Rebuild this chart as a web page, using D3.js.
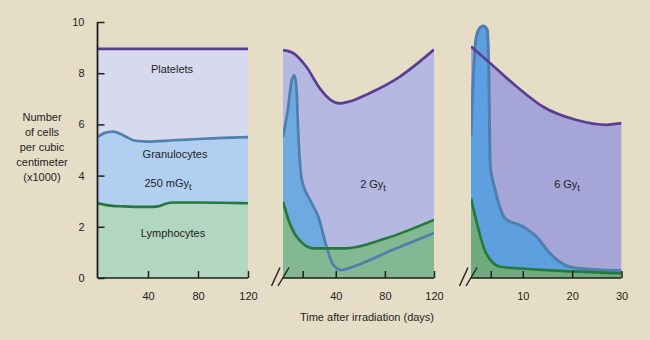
<!DOCTYPE html>
<html><head><meta charset="utf-8">
<script src="https://cdn.jsdelivr.net/npm/d3@7"></script>
<style>
html,body{margin:0;padding:0;background:#e6ddc7;}
svg{display:block;font-family:"Liberation Sans",Arial,Helvetica,sans-serif;}
</style></head>
<body>
<svg id="c" width="650" height="340"></svg>
<script>
// ---- data (days, cells x1000) ----
const yTicks = [0, 2, 4, 6, 8, 10];
const p1Ticks = [40, 80, 120];
const p2Ticks = [13, 40, 80, 120];
const p2Labels = ["", "40", "80", "120"];
const p3Ticks = [3.5, 10, 20, 30];
const p3Labels = ["", "10", "20", "30"];

const p1Platelets = [[0,8.95],[40,8.95],[80,8.95],[120,8.95]];
const p1Granulocytes = [[0,5.52],[5,5.66],[12,5.72],[20,5.58],[30,5.36],[40,5.33],[60,5.38],[80,5.43],[100,5.47],[120,5.5]];
const p1Lymphocytes = [[0,2.92],[10,2.83],[20,2.8],[40,2.78],[48,2.8],[54,2.9],[60,2.95],[80,2.95],[100,2.94],[120,2.92]];

const p2Platelets = [[-3,8.9],[5.5,8.78],[16,8.25],[27,7.41],[36,6.95],[43,6.82],[50,6.88],[67,7.21],[92,7.86],[120,8.92]];
const p2Granulocytes = [[-3,5.52],[1,6.6],[4,7.7],[6.3,7.93],[8,7.4],[9.3,5.8],[12.3,3.85],[19,3.05],[25.7,2.4],[32.5,1.22],[37.8,0.52],[44.6,0.31],[54,0.44],[86,1.09],[120,1.76]];
const p2Lymphocytes = [[-3,2.98],[2,2.2],[8.2,1.61],[21.7,1.16],[48.6,1.16],[81,1.55],[120,2.27]];

const p3Platelets = [[-0.5,9.04],[3.4,8.39],[8.8,7.47],[14.1,6.69],[20.9,6.17],[26.9,5.98],[29.8,6.04],[30,6.04]];
const p3Granulocytes = [[-0.5,5.59],[0.35,9.1],[1.0,9.69],[2.0,9.84],[2.8,9.7],[3.1,8.2],[3.4,4.4],[4.4,3.44],[6.4,2.33],[10.1,2.0],[12.8,1.61],[15.5,0.96],[19.5,0.44],[25,0.32],[30,0.29]];
const p3Lymphocytes = [[-0.5,3.11],[0.7,2.14],[2.4,1.03],[5.4,0.44],[8.8,0.38],[20,0.26],[30,0.18]];

const panels = [
  {domain:[0,120], range:[98,248], ticks:p1Ticks, labels:p1Ticks.map(String),
   plt:p1Platelets, gran:p1Granulocytes, lym:p1Lymphocytes,
   fills:["#d7d9ef","#b1d0f1","#b3d6c0"], brk:false},
  {domain:[-3,120], range:[283,434], ticks:p2Ticks, labels:p2Labels,
   plt:p2Platelets, gran:p2Granulocytes, lym:p2Lymphocytes,
   fills:["#b5b8e0","#6eaae0","#84b893"], brk:true},
  {domain:[-0.5,30], range:[471,621.5], ticks:p3Ticks, labels:p3Labels,
   plt:p3Platelets, gran:p3Granulocytes, lym:p3Lymphocytes,
   fills:["#a5a5d8","#5d9fdf","#6fab7e"], brk:true}
];

const svg = d3.select("#c");
const y = d3.scaleLinear().domain([0,10]).range([278,22]);
const ink = "#1e1e1e";

panels.forEach((p,i) => {
  const x = d3.scaleLinear().domain(p.domain).range(p.range);
  const g = svg.append("g");
  const clipId = "clip"+i;
  svg.append("clipPath").attr("id",clipId).append("rect")
    .attr("x",p.range[0]).attr("y",0).attr("width",p.range[1]-p.range[0]).attr("height",278);
  const area = d3.area().x(d=>x(d[0])).y0(y(0)).y1(d=>y(d[1])).curve(d3.curveMonotoneX);
  const line = d3.line().x(d=>x(d[0])).y(d=>y(d[1])).curve(d3.curveMonotoneX);
  const fg = g.append("g").attr("clip-path",`url(#${clipId})`);
  fg.append("path").attr("d",area(p.plt)).attr("fill",p.fills[0]);
  fg.append("path").attr("d",area(p.gran)).attr("fill",p.fills[1]);
  fg.append("path").attr("d",area(p.lym)).attr("fill",p.fills[2]);
  fg.append("path").attr("d",line(p.gran)).attr("fill","none").attr("stroke","#4f7fae").attr("stroke-width",i==2?3:2.7);
  fg.append("path").attr("d",line(p.lym)).attr("fill","none").attr("stroke","#247a3a").attr("stroke-width",2.7);
  fg.append("path").attr("d",line(p.plt)).attr("fill","none").attr("stroke","#5b3e93").attr("stroke-width",2.7);

  // x axis
  const ax = d3.axisBottom(x).tickValues(p.ticks).tickSizeInner(-7).tickSizeOuter(0)
    .tickPadding(14).tickFormat((d,k)=>p.labels[k]);
  const axg = g.append("g").attr("transform","translate(0,278)").call(ax);
  axg.select(".domain").attr("stroke",ink).attr("stroke-width",1.6).attr("d",`M${p.range[0]},0H${p.range[1]}`);
  axg.selectAll(".tick line").attr("stroke",ink).attr("stroke-width",1.5);
  axg.selectAll(".tick text").attr("fill",ink).attr("font-size",11).attr("font-family","Liberation Sans, Arial, sans-serif");

  if (p.brk) {
    const x0 = p.range[0];
    [[-11.5,-3],[-5,6]].forEach(s=>{
      g.append("line").attr("x1",x0+s[0]).attr("y1",286).attr("x2",x0+s[1]).attr("y2",267.5)
        .attr("stroke",ink).attr("stroke-width",1.4);
    });
  }
  if (i===0) {
    const ay = d3.axisLeft(y).tickValues(yTicks).tickSizeInner(-7).tickSizeOuter(0).tickPadding(13);
    const ayg = g.append("g").attr("transform",`translate(${p.range[0]-0.5},0)`).call(ay);
    ayg.select(".domain").attr("stroke",ink).attr("stroke-width",1.8).attr("d","M0,278V22");
    ayg.selectAll(".tick line").attr("stroke",ink).attr("stroke-width",1.5);
    ayg.selectAll(".tick text").attr("fill",ink).attr("font-size",11).attr("font-family","Liberation Sans, Arial, sans-serif");
  }
});

// labels
const T = (txt,x0,y0,sub) => {
  const t = svg.append("text").attr("x",x0).attr("y",y0).attr("text-anchor","middle")
    .attr("font-size",11).attr("fill",ink).text(txt);
  if (sub) t.append("tspan").attr("font-size",9).attr("dy",3).text(sub);
  return t;
};
T("Platelets",172,73);
T("Granulocytes",175,158);
T("250 mGy",168,187,"t");
T("Lymphocytes",173,237);
T("2 Gy",373,188,"t");
T("6 Gy",567,188,"t");
["Number","of cells","per cubic","centimeter","(x1000)"].forEach((s,k)=>T(s,42,121+k*15));
T("Time after irradiation (days)",367,321);
</script>
</body></html>
